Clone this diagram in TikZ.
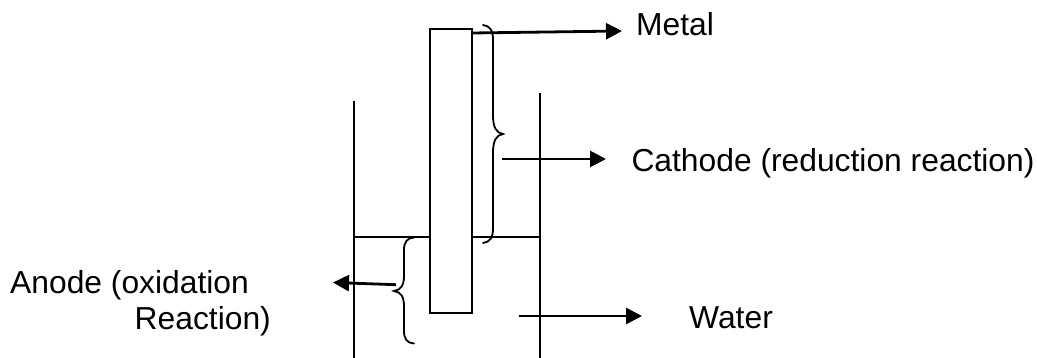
\documentclass[tikz,border=0pt]{standalone}
\usepackage{fontspec}
\setmainfont{Liberation Sans}
\usetikzlibrary{arrows.meta}
\tikzset{
  px/.style={x=1pt,y=-1pt},
  wall/.style={line width=2.3pt,black},
  brace/.style={line width=1.8pt,black,line cap=round},
  pointer/.style={line width=2.8pt,black,-{Triangle[length=16pt,width=16pt]}},
  lbl/.style={font=\fontsize{31.8pt}{36pt}\selectfont,inner sep=0pt,anchor=base west,text=black}
}
\begin{document}
\begin{tikzpicture}[px]
\useasboundingbox (0,0) rectangle (1037,358);
% metal rod
\node[draw,wall,outer sep=0pt,minimum width=42pt,minimum height=284pt,inner sep=0pt,anchor=north west] (rod) at (430.3,29.3) {};
% beaker
\coordinate (ltop) at (354,101); \coordinate (lbot) at (354,358);
\coordinate (rtop) at (540,93); \coordinate (rbot) at (540,358);
\draw[wall] (ltop) -- (lbot);
\draw[wall] (rtop) -- (rbot);
\coordinate (wl) at (354,237); \coordinate (wr) at (540,237);
\draw[wall] (wl) -- (rod.west |- wl);
\draw[wall] (rod.east |- wr) -- (wr);
% braces
\draw[brace] (483,25) .. controls (490,26) and (493,30) .. (493,40) -- (493,115)
  .. controls (493,127) and (496,133) .. (503,134)
  .. controls (496,135) and (493,141) .. (493,153) -- (493,228)
  .. controls (493,238) and (490,242) .. (483,243);
\draw[brace] (414,237.5) .. controls (407,238) and (404,242) .. (404,250) -- (404,276)
  .. controls (404,285) and (401,290) .. (394,291)
  .. controls (401,292) and (404,297) .. (404,306) -- (404,331)
  .. controls (404,339) and (407,343) .. (414,343.5);
% labels
\node[lbl] (metal) at (636,36) {Metal};
\node[lbl] (cathode) at (631.3,172) {Cathode (reduction reaction)};
\node[lbl] (anode) at (10,294) {Anode (oxidation};
\node[lbl] (reaction) at (134.5,330) {Reaction)};
\node[lbl] (water) at (689,328) {Water};
% pointers
\coordinate (ms) at (472,33); \coordinate (me) at (622,31);
\coordinate (cs) at (502,159); \coordinate (ce) at (606,159);
\coordinate (ws) at (519,316); \coordinate (we) at (642,316);
\coordinate (as) at (396,284.7); \coordinate (ae) at (333,282.5);
\draw[pointer] (ms) -- (me);
\draw[pointer] (cs) -- (ce);
\draw[pointer] (ws) -- (we);
\draw[pointer] (as) -- (ae);
\end{tikzpicture}
\end{document}
